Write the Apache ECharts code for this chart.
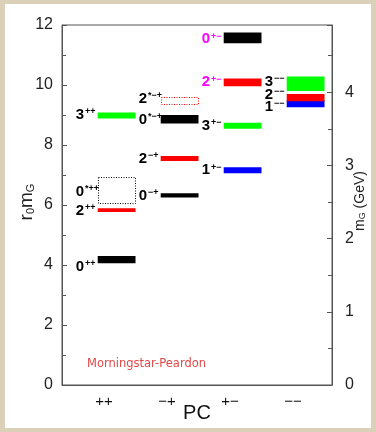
<!DOCTYPE html>
<html lang="en">
<head>
<meta charset="UTF-8">
<title>Glueball spectrum</title>
<script src="https://cdn.jsdelivr.net/npm/echarts@6.0.0/dist/echarts.min.js"></script>
<style>
  html, body { margin: 0; padding: 0; background: #dbd1b8; }
  #main { width: 376px; height: 432px; }
</style>
</head>
<body>
<div id="main"></div>
<script>
// PC sectors along the bottom
var pcLabels = ['++', '\u2212+', '+\u2212', '\u2212\u2212'];

// glueball states (r0 mG: centre and half-height of each bar)
var stateSpin   = ['0', '2', '0', '3', '0', '2', '0', '2', '1', '3', '2', '0', '3', '1', '2'];
var stateSup    = ['++', '++', '*++', '++', '\u2212+', '\u2212+', '*\u2212+', '*\u2212+',
                   '+\u2212', '+\u2212', '+\u2212', '+\u2212', '\u2212\u2212', '\u2212\u2212', '\u2212\u2212'];
var stateCol    = [0, 0, 0, 0, 1, 1, 1, 1, 2, 2, 2, 2, 3, 3, 3];
var stateMass   = [4.18, 5.83, 6.48, 8.98, 6.32, 7.55, 8.86, 9.49, 7.16, 8.64, 10.09, 11.57, 10.04, 9.38, 9.58];
var stateErr    = [0.12, 0.06, 0.44, 0.10, 0.07, 0.08, 0.14, 0.12, 0.10, 0.10, 0.13, 0.18, 0.24, 0.12, 0.12];
var labelMass   = [3.94, 5.80, 6.45, 9.02, 6.32, 7.55, 8.84, 9.54, 7.16, 8.64, 10.09, 11.53, 10.11, 9.28, 9.67];
var stateColor  = ['#000', '#f00', '#000', '#0f0', '#000', '#f00', '#000', '#f00',
                   '#00f', '#0f0', '#f00', '#000', '#0f0', '#00f', '#f00'];
var stateDotted = [false, false, true, false, false, false, false, true,
                   false, false, false, false, false, false, false];
var labelColor  = ['#000', '#000', '#000', '#000', '#000', '#000', '#000', '#000',
                   '#000', '#000', '#f0f', '#f0f', '#000', '#000', '#000'];

var r0GeV = 0.41;   // GeV per unit of r0 mG
var yMax = 12;

var BAR_OFF = 0.2, BAR_HALF = 0.3, LABEL_GAP = 0.35;
var FONT = '"Liberation Sans", Arial, sans-serif';

var chart = echarts.init(document.getElementById('main'));

var data = stateCol.map(function (c, i) {
    return [c, stateMass[i], stateErr[i]];
});

var tickStyle = { color: '#555', width: 1 };

var option = {
    backgroundColor: '#dbd1b8',
    animation: false,
    graphic: [
        { type: 'rect', left: 5, top: 4, z: -10, shape: { width: 366, height: 424 }, style: { fill: '#fff' } },
        { type: 'text', left: 87, top: 358, style: { text: 'Morningstar-Peardon', fill: '#e04848', font: '11.5px "DejaVu Sans", sans-serif' } }
    ],
    grid: {
        left: 62, right: 44, top: 25, bottom: 47,
        show: true, borderColor: '#555', borderWidth: 1,
        containLabel: false, outerBoundsMode: 'none'
    },
    xAxis: {
        type: 'value', min: -0.667, max: 3.619,
        axisLine: { show: true, onZero: false, lineStyle: tickStyle },
        axisTick: { show: false },
        splitLine: { show: false },
        axisLabel: {
            customValues: [0, 1, 2, 3],
            formatter: function (v) { return pcLabels[Math.round(v)]; },
            fontSize: 15, color: '#111', fontFamily: FONT, margin: 9
        },
        name: 'PC', nameLocation: 'middle', nameGap: 18, nameMoveOverlap: false,
        nameTextStyle: { fontSize: 20, color: '#111', fontFamily: FONT }
    },
    yAxis: [{
        type: 'value', min: 0, max: yMax, interval: 2, position: 'left',
        axisLine: { show: true, onZero: false, lineStyle: tickStyle },
        axisTick: { inside: true, length: 5, lineStyle: tickStyle },
        minorTick: { show: true, splitNumber: 2, length: 4, lineStyle: tickStyle },
        splitLine: { show: false },
        axisLabel: { fontSize: 16, color: '#222', fontFamily: FONT, margin: 9 },
        name: '{t|r}{sub|0}{t|m}{sub|G}', nameLocation: 'middle', nameRotate: 90, nameGap: 26,
        nameMoveOverlap: false,
        nameTextStyle: {
            padding: [0, 0, 0, 6],
            rich: {
                t: { fontSize: 19, color: '#222', fontFamily: FONT },
                sub: { fontSize: 11, color: '#222', fontFamily: FONT, verticalAlign: 'bottom', padding: [6, 0, 0, 0] }
            }
        }
    }, {
        type: 'value', min: 0, max: yMax * r0GeV, interval: 1, position: 'right',
        axisLine: { show: true, onZero: false, lineStyle: tickStyle },
        axisTick: { inside: true, length: 5, lineStyle: tickStyle },
        minorTick: { show: true, splitNumber: 2, length: 4, lineStyle: tickStyle },
        splitLine: { show: false },
        axisLabel: { fontSize: 16, color: '#222', fontFamily: FONT, margin: 13, showMaxLabel: false },
        name: '{t|m}{sub|G}{t| (GeV)}', nameLocation: 'middle', nameRotate: 90, nameGap: 21,
        nameMoveOverlap: false,
        nameTextStyle: {
            padding: [0, 0, 0, 8],
            rich: {
                t: { fontSize: 14, color: '#222', fontFamily: FONT },
                sub: { fontSize: 9, color: '#222', fontFamily: FONT, verticalAlign: 'bottom', padding: [5, 0, 0, 0] }
            }
        }
    }],
    series: [{
        type: 'custom',
        coordinateSystem: 'cartesian2d',
        clip: false,
        data: data,
        renderItem: function (params, api) {
            var i = params.dataIndex;
            var c = api.value(0), m = api.value(1), e = api.value(2);
            var p0 = api.coord([c + BAR_OFF - BAR_HALF, m + e]);
            var p1 = api.coord([c + BAR_OFF + BAR_HALF, m - e]);
            var lp = api.coord([c + BAR_OFF - BAR_HALF - LABEL_GAP, labelMass[i]]);
            var bar;
            if (stateDotted[i]) {
                bar = {
                    type: 'rect',
                    shape: { x: Math.round(p0[0]) + 0.5, y: Math.round(p0[1]) + 0.5,
                             width: Math.round(p1[0] - p0[0]) - 1, height: Math.round(p1[1] - p0[1]) },
                    style: { fill: 'none', stroke: stateColor[i], lineWidth: 1, lineDash: [1, 1.5] }
                };
            } else {
                bar = {
                    type: 'rect',
                    shape: { x: p0[0], y: p0[1], width: p1[0] - p0[0], height: p1[1] - p0[1] },
                    style: { fill: stateColor[i] }
                };
            }
            var col = labelColor[i];
            var label = {
                type: 'text',
                x: lp[0], y: lp[1],
                style: {
                    text: '{d|' + stateSpin[i] + '}{s|' + stateSup[i] + '}',
                    align: 'left', verticalAlign: 'middle',
                    rich: {
                        d: { fontSize: 15, fontWeight: 'bold', fontFamily: FONT, fill: col, lineHeight: 15 },
                        s: { fontSize: 9, fontWeight: 'bold', fontFamily: FONT, fill: col, lineHeight: 9,
                             verticalAlign: 'top', padding: [0, 0, 0, 1] }
                    }
                }
            };
            return { type: 'group', children: [bar, label] };
        }
    }]
};

chart.setOption(option);
</script>
</body>
</html>
